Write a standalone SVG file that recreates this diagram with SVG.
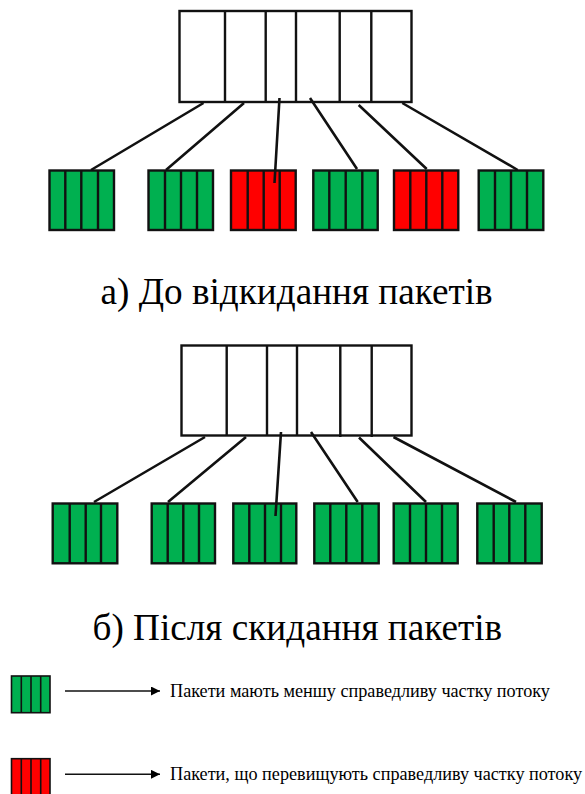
<svg xmlns="http://www.w3.org/2000/svg" width="585" height="794" viewBox="0 0 585 794">
<style>
.q{fill:#fff;stroke:#111;stroke-width:2.4}
.d{stroke:#111;stroke-width:2.4;fill:none}
.s{stroke:#111;stroke-width:2.4}
.g{fill:#00b050}
.r{fill:#ff0000}
.c{stroke:#111;stroke-width:2.6;fill:none}
.l{stroke:#111;stroke-width:1.6}
.t{font-family:"Liberation Serif","Times New Roman",serif;fill:#000}
.h{font-size:37.200px}
.n{font-size:18.200px}
</style>
<defs>
<marker id="a" markerUnits="userSpaceOnUse" markerWidth="10" markerHeight="10" refX="9" refY="4.500" orient="auto"><path d="M0 0L9 4.500L0 9Z" fill="#000"/></marker>
</defs>
<rect width="585" height="794" fill="#fff"/>
<g id="buffer-a"><rect class="q" x="179.500" y="11" width="232" height="91"/><path class="d" d="M225 11V102M265.700 11V102M296 11V102M339.700 11V103M371.300 11V103"/></g>
<g id="a1"><rect class="s g" x="49.500" y="170.500" width="64.500" height="59.500"/><path class="d" d="M65.300 170.500V230M81.300 170.500V230M98 170.500V230"/></g>
<g id="a2"><rect class="s g" x="148.500" y="170.500" width="64.500" height="59.500"/><path class="d" d="M165 170.500V230M181 170.500V230M197 170.500V230"/></g>
<g id="a3"><rect class="s r" x="231" y="170.500" width="64.700" height="59.500"/><path class="d" d="M247.700 170.500V230M263.700 170.500V230M279.700 170.500V230"/></g>
<g id="a4"><rect class="s g" x="313.300" y="170.500" width="64.400" height="59.500"/><path class="d" d="M329.300 170.500V230M345.700 170.500V230M362.300 170.500V230"/></g>
<g id="a5"><rect class="s r" x="394" y="170.500" width="64.300" height="59.500"/><path class="d" d="M410.300 170.500V230M426.300 170.500V230M442.300 170.500V230"/></g>
<g id="a6"><rect class="s g" x="478.700" y="170.500" width="64.600" height="59.500"/><path class="d" d="M495 170.500V230M511 170.500V230M527 170.500V230"/></g>
<g id="buffer-b"><rect class="q" x="181.500" y="345.500" width="230" height="90"/><path class="d" d="M226.700 345.500V436M267 345.500V436M297 345.500V436M340.300 345.500V437M371.700 345.500V437"/></g>
<g id="b1"><rect class="s g" x="52.700" y="503.500" width="64.600" height="59.800"/><path class="d" d="M69.700 503.500V563M85.700 503.500V563M101 503.500V563"/></g>
<g id="b2"><rect class="s g" x="151.700" y="503.500" width="63.300" height="59.800"/><path class="d" d="M167.700 503.500V563M183.300 503.500V563M199 503.500V563"/></g>
<g id="b3"><rect class="s g" x="233.300" y="503.500" width="63" height="59.800"/><path class="d" d="M249.300 503.500V563M265 503.500V563M281 503.500V563"/></g>
<g id="b4"><rect class="s g" x="314.300" y="503.500" width="64.400" height="59.800"/><path class="d" d="M330.300 503.500V563M346.300 503.500V563M362.300 503.500V563"/></g>
<g id="b5"><rect class="s g" x="393.700" y="503.500" width="64" height="59.800"/><path class="d" d="M410 503.500V563M426 503.500V563M442 503.500V563"/></g>
<g id="b6"><rect class="s g" x="477.300" y="503.500" width="64.400" height="59.800"/><path class="d" d="M493.700 503.500V563M509.300 503.500V563M525.300 503.500V563"/></g>
<g id="legend-green"><rect class="l g" x="11.500" y="676" width="38.500" height="36.700"/><path class="l" fill="none" d="M21.300 676V712.700M31 676V712.700M40.700 676V712.700"/></g>
<g id="legend-red"><rect class="l r" x="11.500" y="758.700" width="38.500" height="37"/><path class="l" fill="none" d="M21.300 758.700V794M31 758.700V794M40.700 758.700V794"/></g>
<g id="connectors">
<path class="c" d="M203.500 103L91 170M244 103L166 170M279.500 98L274.500 183M310 98L357 169M358.700 105L426.700 169M402.300 103L517.700 170"/>
<path class="c" d="M205 437L94 502M246 437L168 502M281 432L275.500 516M311 432L357.700 502M359 437.500L426 502M393.500 437L516 502"/>
<path class="l" marker-end="url(#a)" d="M65 691H160"/>
<path class="l" marker-end="url(#a)" d="M65 774.300H160"/>
</g>
<text class="t h" x="100.500" y="303.500">а) До відкидання пакетів</text>
<text class="t h" x="92.500" y="639.500">б) Після скидання пакетів</text>
<text class="t n" x="170" y="697">Пакети мають меншу справедливу частку потоку</text>
<text class="t n" x="170" y="780">Пакети, що перевищують справедливу частку потоку</text>
</svg>
